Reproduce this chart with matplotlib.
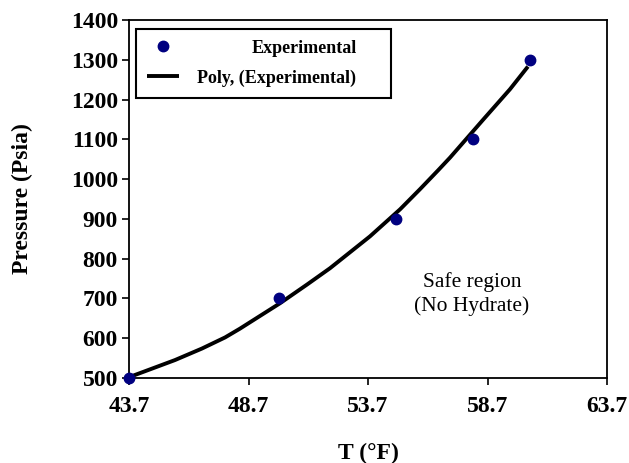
import numpy as np
import matplotlib
matplotlib.use('Agg')
import matplotlib.pyplot as plt

# experimental hydrate points
temp_f = [43.7, 49.98, 54.87, 58.09, 60.48]
pressure_psia = [500, 700, 900, 1100, 1300]

# polynomial trendline
poly_t = [43.70, 45.62, 46.75, 47.72, 48.34, 50.02, 51.15, 52.11,
          53.78, 55.04, 55.88, 56.63, 57.13, 58.51, 59.64, 60.39]
poly_p = [502, 545, 574, 602, 624, 688, 735, 776,
          856, 924, 975, 1022, 1054, 1149, 1226, 1283]

xticks = [43.7, 48.7, 53.7, 58.7, 63.7]
yticks = [500, 600, 700, 800, 900, 1000, 1100, 1200, 1300, 1400]

plt.rcParams['font.family'] = ['Liberation Serif', 'DejaVu Serif']

fig = plt.figure(figsize=(6.29, 4.63), dpi=100)
ax = fig.add_axes([0.2051, 0.1836, 0.760, 0.7732])

ax.plot(temp_f, pressure_psia, 'o', color='#000080', markersize=7.5,
        label='Experimental', clip_on=False, zorder=3)
ax.plot(poly_t, poly_p, '-', color='black', linewidth=2.8,
        solid_joinstyle='round', solid_capstyle='butt',
        label='Poly, (Experimental)', zorder=2)

ax.set_xlim(43.7, 63.7)
ax.set_ylim(500, 1400)
ax.set_xticks(xticks)
ax.set_xticklabels(['%.1f' % v for v in xticks])
ax.set_yticks(yticks)
for lbl in ax.get_xticklabels() + ax.get_yticklabels():
    lbl.set_fontweight('bold')
    lbl.set_fontsize(17)
ax.tick_params(axis='x', direction='out', length=5, width=1.2, pad=8)
ax.tick_params(axis='y', direction='out', length=5, width=1.2, pad=3)
for s in ax.spines.values():
    s.set_linewidth(1.3)

ax.set_xlabel('T (°F)', fontsize=17, fontweight='bold', va='top')
ax.xaxis.set_label_coords(0.5, -0.182)
ax.set_ylabel('Pressure (Psia)', fontsize=17, fontweight='bold')
ax.yaxis.set_label_coords(-0.2, 0.5)

ax.text(0.7176, 0.2346, 'Safe region\n(No Hydrate)', transform=ax.transAxes,
        ha='center', va='center', fontsize=15.5, linespacing=1.3)

leg = ax.legend(loc='upper left', bbox_to_anchor=(0.0146, 0.975, 0.5335, 0.0),
                mode='expand', borderaxespad=0, fancybox=False, framealpha=1,
                edgecolor='black', prop={'weight': 'bold', 'size': 13},
                handlelength=1.8, handletextpad=1.0, borderpad=0.6,
                labelspacing=0.7)
leg.get_frame().set_linewidth(1.5)
leg.texts[0].set_x(54)

fig.savefig('out.png', dpi=100)
